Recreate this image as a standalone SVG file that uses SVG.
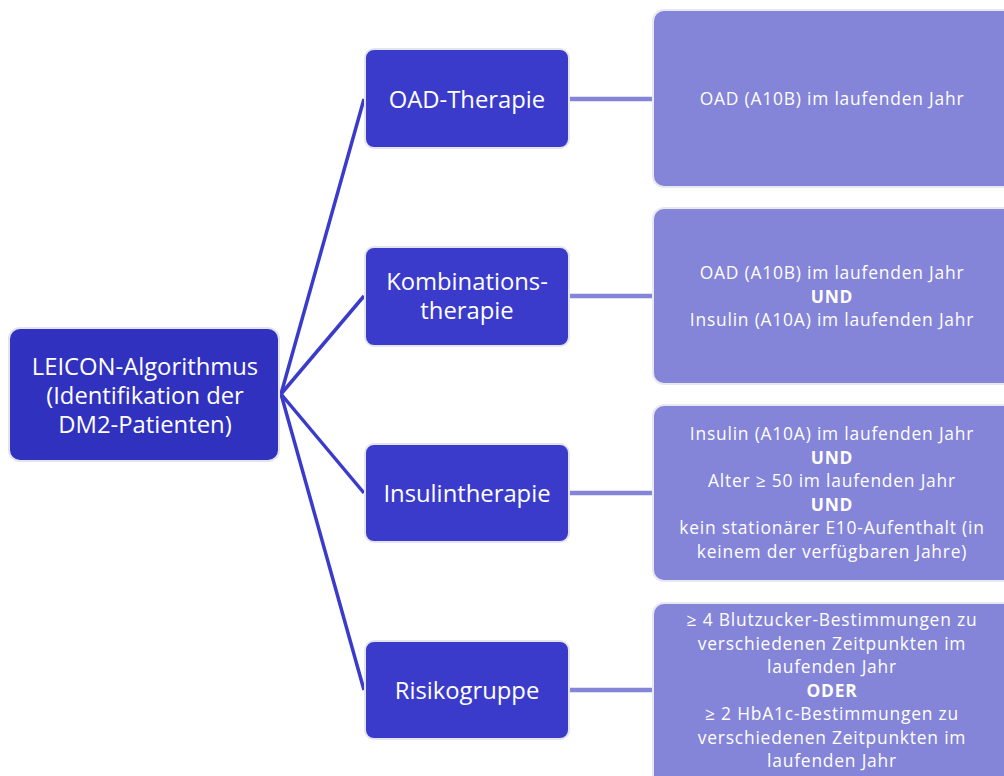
<svg xmlns="http://www.w3.org/2000/svg" width="1004" height="776" viewBox="0 0 1004 776">
<style>
.root{fill:#3131bf;stroke:#e4e4ee;stroke-width:2}
.child{fill:#3b3bcb;stroke:#e4e4ee;stroke-width:2}
.leaf{fill:#8484d8;stroke:#e8e8f0;stroke-width:2}
.t{font-family:"Open Sans",Lato,"Liberation Sans",sans-serif;fill:#ffffff;text-anchor:middle;dominant-baseline:central}
.big{font-size:23.8px}
.rt{font-size:23.8px}
.sm{font-size:17.4px;letter-spacing:0.8px}
.b{font-weight:bold}
.c1{stroke:#3b3bcb;stroke-width:3.5;fill:none}
.c2{stroke:#8484d8;stroke-width:4.5;fill:none}
</style>
<rect width="1004" height="776" fill="#ffffff"/>
<g id="connectors">
<line class="c1" x1="281" y1="394" x2="364" y2="99"/>
<line class="c1" x1="281" y1="394" x2="364" y2="296"/>
<line class="c1" x1="281" y1="394" x2="364" y2="493"/>
<line class="c1" x1="281" y1="394" x2="364" y2="690"/>
<line class="c2" x1="569" y1="99" x2="653" y2="99"/>
<line class="c2" x1="569" y1="296" x2="653" y2="296"/>
<line class="c2" x1="569" y1="493" x2="653" y2="493"/>
<line class="c2" x1="569" y1="690" x2="653" y2="690"/>
</g>
<g id="root">
<rect class="root" x="9" y="328" width="270" height="133" rx="11"/>
<text class="t rt" x="145" y="366">LEICON-Algorithmus</text>
<text class="t rt" x="145" y="395">(Identifikation der</text>
<text class="t rt" x="145" y="424">DM2-Patienten)</text>
</g>
<g id="oad">
<rect class="child" x="365" y="49" width="204" height="99" rx="9"/>
<text class="t big" x="467" y="99">OAD-Therapie</text>
</g>
<g id="kombi">
<rect class="child" x="365" y="247" width="204" height="99" rx="9"/>
<text class="t big" x="467" y="281">Kombinations-</text>
<text class="t big" x="467" y="310">therapie</text>
</g>
<g id="insulin">
<rect class="child" x="365" y="444" width="204" height="98" rx="9"/>
<text class="t big" x="467" y="493">Insulintherapie</text>
</g>
<g id="risiko">
<rect class="child" x="365" y="641" width="204" height="98" rx="9"/>
<text class="t big" x="467" y="690">Risikogruppe</text>
</g>
<g id="leaf1">
<rect class="leaf" x="653" y="10" width="362" height="177" rx="11"/>
<text class="t sm" x="832" y="98">OAD (A10B) im laufenden Jahr</text>
</g>
<g id="leaf2">
<rect class="leaf" x="653" y="208" width="362" height="176" rx="11"/>
<text class="t sm" x="832" y="272">OAD (A10B) im laufenden Jahr</text>
<text class="t sm b" x="832" y="295.5">UND</text>
<text class="t sm" x="832" y="319">Insulin (A10A) im laufenden Jahr</text>
</g>
<g id="leaf3">
<rect class="leaf" x="653" y="405" width="362" height="176" rx="11"/>
<text class="t sm" x="832" y="433">Insulin (A10A) im laufenden Jahr</text>
<text class="t sm b" x="832" y="456.5">UND</text>
<text class="t sm" x="832" y="480">Alter ≥ 50 im laufenden Jahr</text>
<text class="t sm b" x="832" y="503.5">UND</text>
<text class="t sm" x="832" y="527">kein stationärer E10-Aufenthalt (in</text>
<text class="t sm" x="832" y="550.5">keinem der verfügbaren Jahre)</text>
</g>
<g id="leaf4">
<rect class="leaf" x="653" y="603" width="362" height="190" rx="11"/>
<text class="t sm" x="832" y="619">≥ 4 Blutzucker-Bestimmungen zu</text>
<text class="t sm" x="832" y="642.5">verschiedenen Zeitpunkten im</text>
<text class="t sm" x="832" y="666">laufenden Jahr</text>
<text class="t sm b" x="832" y="689.5">ODER</text>
<text class="t sm" x="832" y="713">≥ 2 HbA1c-Bestimmungen zu</text>
<text class="t sm" x="832" y="736.5">verschiedenen Zeitpunkten im</text>
<text class="t sm" x="832" y="760">laufenden Jahr</text>
</g>
</svg>
